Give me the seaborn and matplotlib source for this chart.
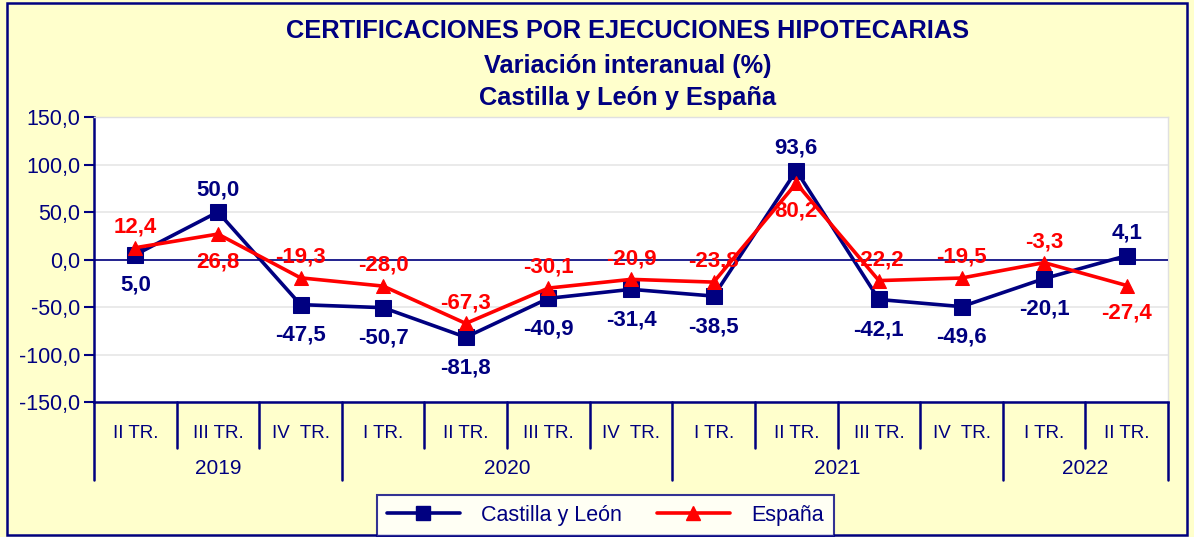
import matplotlib
matplotlib.use("Agg")
import matplotlib.pyplot as plt
import matplotlib.patches as mpatches
from matplotlib.lines import Line2D
from matplotlib.ticker import FuncFormatter
import pandas as pd
import seaborn as sns

quarters = ['II TR.', 'III TR.', 'IV  TR.', 'I TR.', 'II TR.', 'III TR.', 'IV  TR.',
            'I TR.', 'II TR.', 'III TR.', 'IV  TR.', 'I TR.', 'II TR.']
years = ['2019', '2020', '2021', '2022']
year_sizes = [3, 4, 4, 2]
cyl = [5.0, 50.0, -47.5, -50.7, -81.8, -40.9, -31.4, -38.5, 93.6, -42.1, -49.6, -20.1, 4.1]
espana = [12.4, 26.8, -19.3, -28.0, -67.3, -30.1, -20.9, -23.8, 80.2, -22.2, -19.5, -3.3, -27.4]

navy = '#000080'
red = '#FF0000'
bg = '#FFFFCC'

sns.set_style('white')
plt.rcParams['font.family'] = ['Liberation Sans', 'DejaVu Sans']

df = pd.DataFrame({'idx': range(len(cyl)), 'cyl': cyl, 'esp': espana})

fig = plt.figure(figsize=(11.94, 5.37), dpi=100, facecolor=bg)
ax = fig.add_axes([0.0787, 0.2514, 0.9783 - 0.0787, 0.7821 - 0.2514])
ax.set_facecolor('white')

sns.lineplot(data=df, x='idx', y='cyl', ax=ax, color=navy, lw=2.6, marker='s',
             markersize=11, markeredgecolor=navy, zorder=4)
sns.lineplot(data=df, x='idx', y='esp', ax=ax, color=red, lw=2.6, marker='^',
             markersize=10, markeredgecolor=red, zorder=5)

ax.set_xlim(-0.5, len(cyl) - 0.5)
ax.set_ylim(-150, 150)
ax.set_yticks(range(-150, 151, 50))
ax.yaxis.set_major_formatter(FuncFormatter(lambda v, p: f'{v:.1f}'.replace('.', ',')))
ax.tick_params(axis='y', colors=navy, labelsize=15.5, length=7, width=1.5, direction='out',
               left=True, pad=3)
ax.set_xticks([])
ax.set_xlabel('')
ax.set_ylabel('')
ax.grid(axis='y', color='#E6E6E6', lw=1.2)
ax.axhline(0, color=navy, lw=1.2, zorder=3)

for s in ['top', 'right']:
    ax.spines[s].set_color('#E0E0E0')
    ax.spines[s].set_linewidth(1)
for s in ['left', 'bottom']:
    ax.spines[s].set_color(navy)
    ax.spines[s].set_linewidth(1.8)

# data labels
for i, (a, b) in enumerate(zip(cyl, espana)):
    off_a = 16 if a > b else -22
    off_b = 15 if b >= a else -20
    ax.annotate(f'{a:.1f}'.replace('.', ','), (i, a), xytext=(0, off_a), textcoords='offset points',
                ha='center', va='center', color=navy, fontsize=16, fontweight='bold', zorder=6)
    ax.annotate(f'{b:.1f}'.replace('.', ','), (i, b), xytext=(0, off_b), textcoords='offset points',
                ha='center', va='center', color=red, fontsize=16, fontweight='bold', zorder=6)

# two level category axis
trans = ax.get_xaxis_transform()
short, long_ = -0.1614, -0.2737
for i, q in enumerate(quarters):
    ax.text(i, -0.109, q, transform=trans, ha='center', va='center', color=navy, fontsize=13.5)
pos = -0.5
bounds = [pos]
for y, n in zip(years, year_sizes):
    ax.text(pos + n / 2, -0.2316, y, transform=trans, ha='center', va='center', color=navy, fontsize=15)
    pos += n
    bounds.append(pos)
for k in range(len(quarters) + 1):
    x = k - 0.5
    bottom = long_ if x in bounds else short
    ax.plot([x, x], [0, bottom], transform=trans, color=navy, lw=1.8, clip_on=False)

# titles
fig.text(0.526, 0.942, 'CERTIFICACIONES POR EJECUCIONES HIPOTECARIAS', ha='center', va='center',
         color=navy, fontsize=18.3, fontweight='bold')
fig.text(0.526, 0.877, 'Variación interanual (%)', ha='center', va='center',
         color=navy, fontsize=18.3, fontweight='bold')
fig.text(0.526, 0.817, 'Castilla y León y España', ha='center', va='center',
         color=navy, fontsize=18.3, fontweight='bold')

# legend
handles = [Line2D([], [], color=navy, lw=2.6, marker='s', markersize=10),
           Line2D([], [], color=red, lw=2.6, marker='^', markersize=10)]
leg = fig.legend(handles, ['Castilla y León', 'España'], loc='center', bbox_to_anchor=(0.507, 0.04),
                 ncol=2, frameon=True, fancybox=False, fontsize=15.5, handlelength=3.4,
                 columnspacing=1.6, borderpad=0.45, handletextpad=1.0)
leg.get_frame().set_edgecolor(navy)
leg.get_frame().set_linewidth(1.5)
leg.get_frame().set_facecolor('white')
for t in leg.get_texts():
    t.set_color(navy)

# outer border
fig.patches.append(mpatches.Rectangle((0.006, 0.004), 0.988, 0.99, transform=fig.transFigure,
                                      fill=False, edgecolor=navy, lw=1.8))

fig.savefig('out.png', dpi=100, facecolor=bg)
